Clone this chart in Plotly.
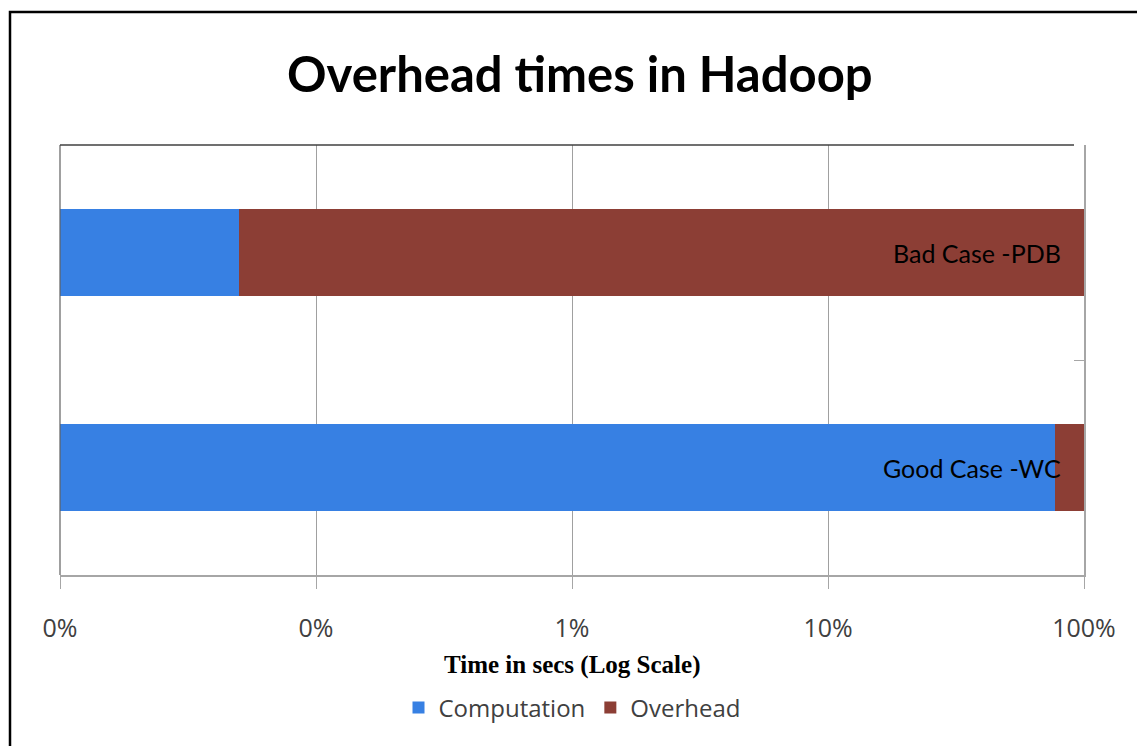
import plotly.graph_objects as go

categories = ["Good Case -WC", "Bad Case -PDB"]
computation = [77.0, 0.05]
overhead = [23.0, 99.95]
tick_vals = [0.01, 0.1, 1, 10, 100]
tick_text = ["0%", "0%", "1%", "10%", "100%"]

W, H = 1137, 746
L, R, T, B = 60, 1137 - 1084, 145, 746 - 575
pw, ph = W - L - R, H - T - B

def px_x(x):
    return (x - L) / pw

def px_y(y):
    return (H - B - y) / ph

fig = go.Figure()
fig.add_trace(go.Bar(y=categories, x=computation, name="Computation", orientation="h",
                     marker=dict(color="#3780E3", line=dict(width=0))))
fig.add_trace(go.Bar(y=categories, x=overhead, name="Overhead", orientation="h",
                     marker=dict(color="#8C3E35", line=dict(width=0))))

for cat in categories:
    fig.add_annotation(x=2, y=cat, xref="x", yref="y", text=cat, showarrow=False,
                       xanchor="right", xshift=-21,
                       font=dict(family="Lato", size=25, color="#000000"))

fig.add_annotation(x=0.5, y=px_y(665), xref="paper", yref="paper",
                   text="<b>Time in secs (Log Scale)</b>", showarrow=False,
                   xanchor="center", yanchor="middle",
                   font=dict(family="Liberation Serif", size=25, color="#000000"))

# outer frame
fig.add_shape(type="rect", xref="paper", yref="paper",
              x0=px_x(10), x1=px_x(1150), y0=px_y(760), y1=px_y(12),
              line=dict(color="#000000", width=2.5), layer="below")
# plot area left and top borders
fig.add_shape(type="line", xref="paper", yref="paper", x0=0, x1=0, y0=0, y1=1,
              line=dict(color="#606060", width=1.2))
fig.add_shape(type="line", xref="paper", yref="paper", x0=0, x1=px_x(1074), y0=1, y1=1,
              line=dict(color="#404040", width=1.5))

fig.update_layout(
    width=W, height=H,
    margin=dict(l=L, r=R, t=T, b=B),
    paper_bgcolor="white", plot_bgcolor="white",
    barmode="stack", bargap=0.595,
    title=dict(text="<b>Overhead times in Hadoop</b>", x=0.51, xanchor="center",
               y=1 - 75 / H, yanchor="middle",
               font=dict(family="Lato", size=49, color="#000000")),
    showlegend=True,
    legend=dict(orientation="h", x=0.5, xanchor="center", y=px_y(708), yanchor="middle",
                font=dict(family="Open Sans", size=24, color="#404040"),
                traceorder="normal", itemwidth=30),
    xaxis=dict(type="log", range=[-2, 2], tickvals=tick_vals, ticktext=tick_text,
               showgrid=True, gridcolor="#A0A0A0", gridwidth=1,
               showline=True, linecolor="#A6A6A6", linewidth=1.5,
               ticks="outside", ticklen=12, tickcolor="#A6A6A6",
               ticklabelstandoff=18,
               tickfont=dict(family="Open Sans", size=25, color="#404040"),
               zeroline=False),
    yaxis=dict(type="category", side="right", showgrid=False,
               showline=True, linecolor="#A6A6A6", linewidth=1.5,
               ticks="inside", ticklen=10, tickcolor="#A6A6A6", tickson="boundaries",
               showticklabels=False),
)

fig.write_html("out.html")
